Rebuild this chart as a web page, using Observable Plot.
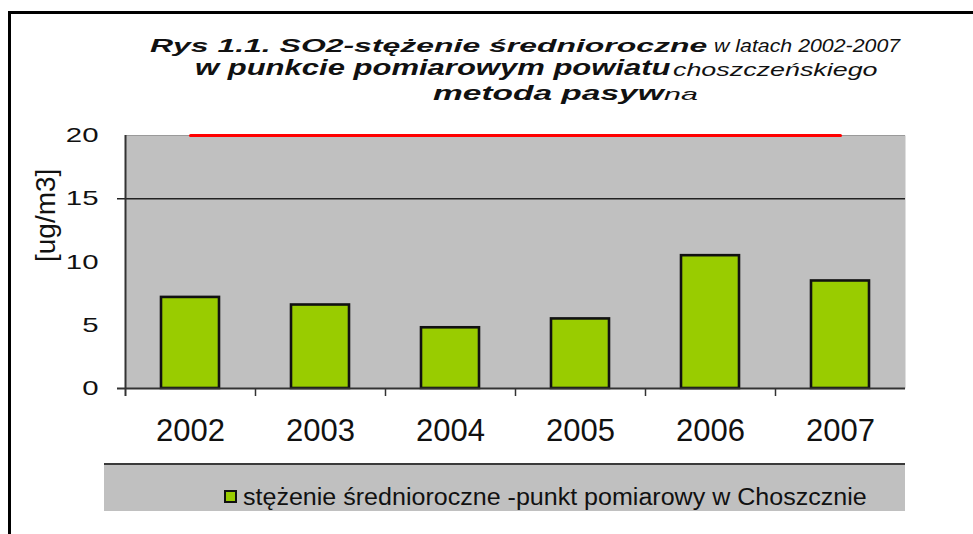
<!DOCTYPE html>
<html>
<head>
<meta charset="utf-8">
<script src="https://cdn.jsdelivr.net/npm/d3@7"></script>
<script src="https://cdn.jsdelivr.net/npm/@observablehq/plot@0.6"></script>
<style>
  body { margin: 0; background: #fff; }
  #wrap { position: relative; width: 973px; height: 534px; overflow: hidden;
          font-family: "Liberation Sans", Arial, sans-serif; color: #111; background: #fff; }
  #chart { position: absolute; left: 0; top: 115px; }
  .seg { position: absolute; white-space: pre; line-height: 1; transform-origin: 0 0; color: #111; }
  .frameLine { position: absolute; left: 8px; top: 11px; width: 1100px; height: 700px;
               border-left: 3px solid #000; border-top: 3px solid #000; }
  #legendBox { position: absolute; left: 104px; top: 463px; width: 801px; height: 48px;
               background: #c0c0c0; border-top: 2px solid #3a3a3a; box-sizing: border-box; }
  #swatch { position: absolute; left: 224px; top: 490px; width: 13px; height: 13px;
            box-sizing: border-box; border: 2px solid #111; background: #99cc00; }
</style>
</head>
<body>
<div id="wrap">
  <div id="chart"></div>
  <div id="legendBox"></div>
  <div id="swatch"></div>
  <div class="frameLine"></div>
</div>
<script>
// ---- data ----
const years = ["2002", "2003", "2004", "2005", "2006", "2007"];
const values = [7.2, 6.6, 4.8, 5.5, 10.5, 8.5];
const limitValues = [20, 20, 20, 20, 20, 20];
const yTicks = [0, 5, 10, 15, 20];
const gridValues = [15];
const yLabel = "[ug/m3]";
const titleParts = [
  "Rys 1.1. SO2-stężenie średnioroczne",
  "w latach 2002-2007",
  "w punkcie pomiarowym powiatu",
  "choszczeńskiego",
  "metoda pasyw",
  "na"
];
const legendLabel = "stężenie średnioroczne -punkt pomiarowy w Choszcznie";

// ---- table ----
const table = years.map((year, i) => ({year, value: values[i], limit: limitValues[i]}));

// ---- chart ----
const chart = Plot.plot({
  width: 973,
  height: 345,
  marginLeft: 125,
  marginRight: 68,
  marginTop: 20,
  marginBottom: 72,
  style: {fontFamily: '"Liberation Sans", Arial, sans-serif', color: "#111", background: "transparent", overflow: "visible"},
  x: {type: "band", domain: years, paddingInner: 0.55, paddingOuter: 0.275, label: null},
  y: {domain: [0, 20], label: null},
  marks: [
    Plot.frame({fill: "#c0c0c0", stroke: "none"}),
    Plot.ruleY([20], {stroke: "#9a9a9a", strokeWidth: 1}),
    Plot.ruleY(gridValues, {stroke: "#222", strokeWidth: 1.5, insetLeft: -8}),
    Plot.barY(table, {x: "year", y: "value", fill: "#99cc00", stroke: "#111", strokeWidth: 2.6}),
    Plot.lineY(table, {x: "year", y: "limit", stroke: "#ff0000", strokeWidth: 3}),
    Plot.ruleY([0], {stroke: "#333", strokeWidth: 2, insetLeft: -8}),
    Plot.ruleX([years[0]], {x: d => d, dx: -65, y1: 20, y2: 0, insetBottom: -8, stroke: "#333", strokeWidth: 2}),
    Plot.ruleX(years.slice(1), {x: d => d, dx: -65, y1: 0, y2: 0, insetBottom: -8, stroke: "#333", strokeWidth: 1.5}),
    Plot.axisY(yTicks, {tickSize: 0, tickPadding: 27, fontSize: 21, label: null, fill: "#111"}),
    Plot.axisX({tickSize: 0, tickPadding: 30, fontSize: 31, label: null, fill: "#111"}),
    Plot.text([yLabel], {text: d => d, frameAnchor: "left", dx: -79, rotate: -90, fontSize: 28, fill: "#111"})
  ]
});
document.getElementById("chart").appendChild(chart);

// widen y tick labels horizontally like the reference (keep Plot's own position)
chart.querySelectorAll('g[aria-label="y-axis tick label"] text').forEach(t => {
  const tr = t.getAttribute("transform");
  if (tr && tr.indexOf("translate") >= 0) t.setAttribute("transform", tr + " scale(1.4,1)");
});

// ---- title & legend text (real text, stretched to the reference widths) ----
const wrap = document.getElementById("wrap");
function placeText(text, left, baseline, fontSize, targetWidth, italic, bold) {
  const s = document.createElement("span");
  s.className = "seg";
  s.textContent = text;
  s.style.fontSize = fontSize + "px";
  s.style.fontStyle = italic ? "italic" : "normal";
  s.style.fontWeight = bold ? "bold" : "normal";
  s.style.left = left + "px";
  s.style.top = (baseline - 0.8465 * fontSize) + "px";
  wrap.appendChild(s);
  const w = s.offsetWidth;
  s.style.transform = `scaleX(${targetWidth / w})`;
}
const titleLayout = [
  [150, 52, 19, 558, true, true],
  [714, 52, 18, 186, true, false],
  [195, 76, 22, 475, true, true],
  [673, 76, 19, 205, true, false],
  [433, 100, 20, 231, true, true],
  [664, 100, 17, 34, true, false]
];
titleParts.forEach((t, i) => placeText(t, ...titleLayout[i]));
placeText(legendLabel, 243, 505, 23, 624, false, false);
</script>
</body>
</html>
